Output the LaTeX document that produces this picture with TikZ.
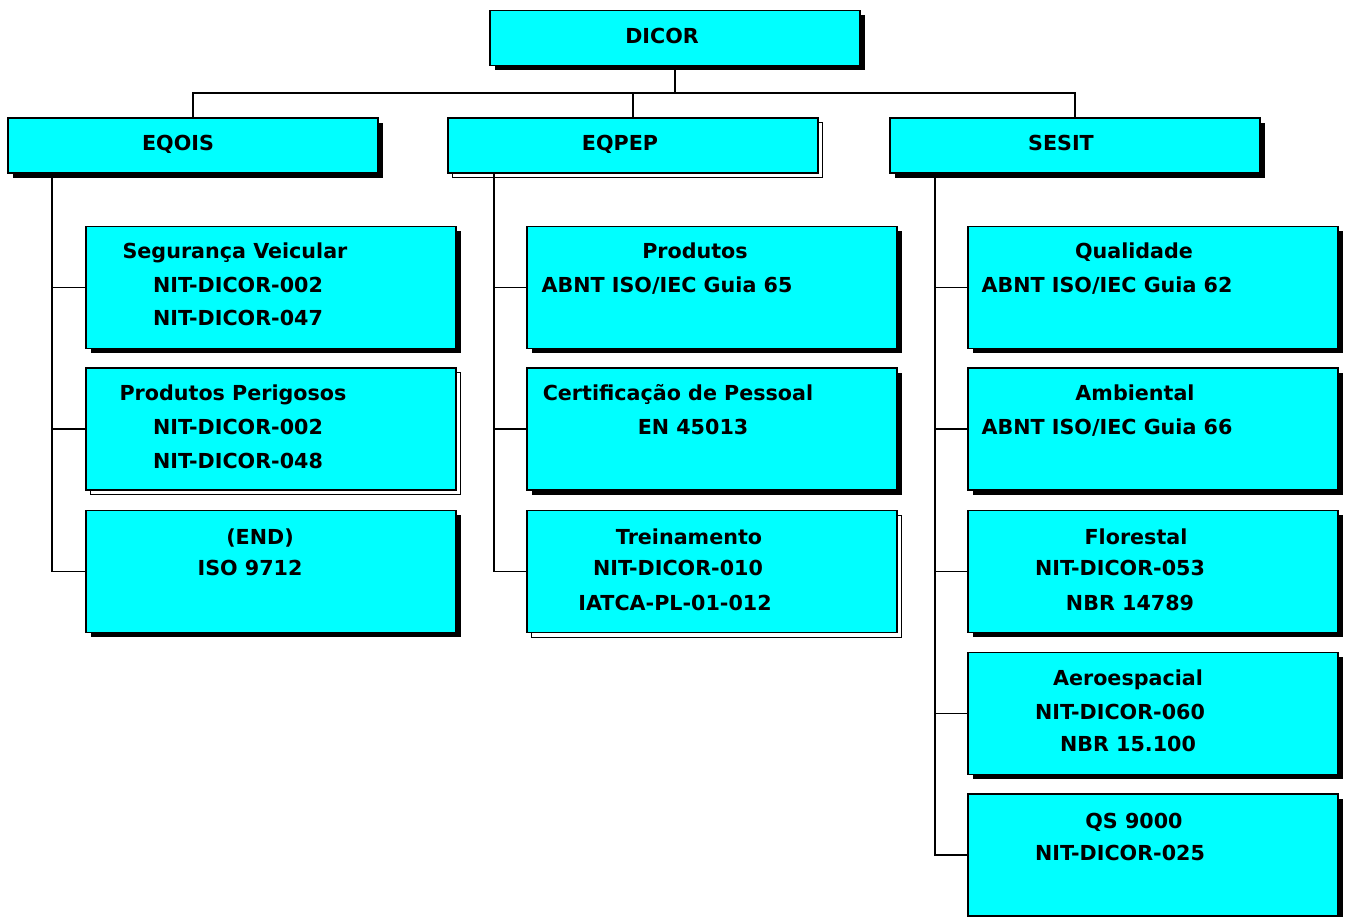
\documentclass[tikz,border=0pt]{standalone}
\usepackage{fontspec}
\setmainfont{DejaVu Sans}
\usetikzlibrary{shadows}
\definecolor{boxcyan}{RGB}{0,255,255}

\begin{document}
\begin{tikzpicture}[x=0.75pt,y=-0.75pt,
  unitbox/.style={draw,fill=boxcyan,line width=1.3pt,inner sep=0pt,minimum width=277.5pt},
  solidshadow/.style={drop shadow={opacity=1,fill=black,shadow xshift=3.5pt,shadow yshift=-3.5pt}},
  lineshadow/.style={general shadow={draw=black,fill=white,line width=0.8pt,shadow xshift=3.5pt,shadow yshift=-3.5pt}},
  topbox/.style={unitbox,minimum height=41.25pt},
  subbox/.style={unitbox,minimum height=91.5pt},
  lbl/.style={anchor=base,inner sep=0pt,font=\bfseries\fontsize{15.5}{18}\selectfont},
  link/.style={line width=1.3pt}]
\useasboundingbox (0,0) rectangle (1346,917);

% Top level
\path (675,38) node[topbox,solidshadow] (Dicor) {}
      (193,145.5) node[topbox,solidshadow] (Eqois) {}
      (633,145.5) node[topbox,lineshadow] (Eqpep) {}
      (1075,145.5) node[topbox,solidshadow] (Sesit) {};
\node[lbl] (DicorT) at (662,44) {DICOR};
\node[lbl] (EqoisT) at (178,150) {EQOIS};
\node[lbl] (EqpepT) at (620,150) {EQPEP};
\node[lbl] (SesitT) at (1061,150) {SESIT};

% EQOIS units
\path (271,287.5) node[subbox,solidshadow] (Seg) {}
      (271,429) node[subbox,lineshadow] (Prod) {}
      (271,571.5) node[subbox,solidshadow] (End) {};
\node[lbl] (SegA) at (235,258) {Segurança Veicular};
\node[lbl] (SegB) at (238,292) {NIT-DICOR-002};
\node[lbl] (SegC) at (238,325) {NIT-DICOR-047};
\node[lbl] (ProdA) at (233,400) {Produtos Perigosos};
\node[lbl] (ProdB) at (238,434) {NIT-DICOR-002};
\node[lbl] (ProdC) at (238,468) {NIT-DICOR-048};
\node[lbl] (EndA) at (260,544) {(END)};
\node[lbl] (EndB) at (250,575) {ISO 9712};

% EQPEP units
\path (712,287.5) node[subbox,solidshadow] (Prd) {}
      (712,429) node[subbox,solidshadow] (Cert) {}
      (712,571.5) node[subbox,lineshadow] (Trein) {};
\node[lbl] (PrdA) at (695,258) {Produtos};
\node[lbl] (PrdB) at (667,292) {ABNT ISO/IEC Guia 65};
\node[lbl] (CertA) at (678,400) {Certificação de Pessoal};
\node[lbl] (CertB) at (693,434) {EN 45013};
\node[lbl] (TreinA) at (689,544) {Treinamento};
\node[lbl] (TreinB) at (678,575) {NIT-DICOR-010};
\node[lbl] (TreinC) at (675,610) {IATCA-PL-01-012};

% SESIT units
\path (1153,287.5) node[subbox,solidshadow] (Qual) {}
      (1153,429) node[subbox,solidshadow] (Amb) {}
      (1153,571.5) node[subbox,solidshadow] (Flor) {}
      (1153,713.5) node[subbox,solidshadow] (Aero) {}
      (1153,855) node[subbox,solidshadow] (Qs) {};
\node[lbl] (QualA) at (1134,258) {Qualidade};
\node[lbl] (QualB) at (1107,292) {ABNT ISO/IEC Guia 62};
\node[lbl] (AmbA) at (1135,400) {Ambiental};
\node[lbl] (AmbB) at (1107,434) {ABNT ISO/IEC Guia 66};
\node[lbl] (FlorA) at (1136,544) {Florestal};
\node[lbl] (FlorB) at (1120,575) {NIT-DICOR-053};
\node[lbl] (FlorC) at (1130,610) {NBR 14789};
\node[lbl] (AeroA) at (1128,685) {Aeroespacial};
\node[lbl] (AeroB) at (1120,719) {NIT-DICOR-060};
\node[lbl] (AeroC) at (1128,751) {NBR 15.100};
\node[lbl] (QsA) at (1134,828) {QS 9000};
\node[lbl] (QsB) at (1120,860) {NIT-DICOR-025};

% Connectors
\coordinate (Bus) at (675,93);
\coordinate (EqoisTrunk) at (52,173);
\coordinate (EqpepTrunk) at (494,173);
\coordinate (SesitTrunk) at (935,173);
\draw[link] (Dicor.south) -- (Bus);
\draw[link] (Bus) -| (Eqois.north);
\draw[link] (Bus) -| (Eqpep.north);
\draw[link] (Bus) -| (Sesit.north);

\foreach \unit in {Seg,Prod,End}
  \draw[link] (EqoisTrunk) |- (\unit.west);
\foreach \unit in {Prd,Cert,Trein}
  \draw[link] (EqpepTrunk) |- (\unit.west);
\foreach \unit in {Qual,Amb,Flor,Aero,Qs}
  \draw[link] (SesitTrunk) |- (\unit.west);

\end{tikzpicture}
\end{document}
